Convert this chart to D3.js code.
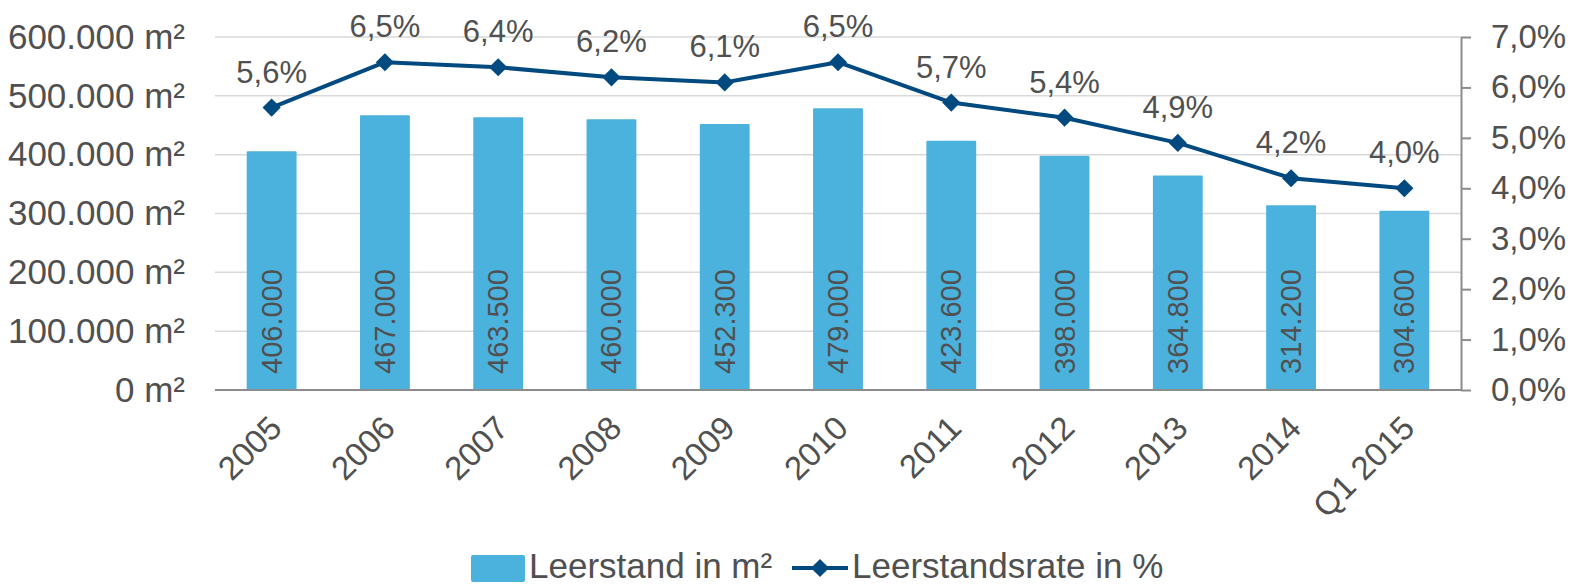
<!DOCTYPE html>
<html><head><meta charset="utf-8">
<script src="https://cdn.jsdelivr.net/npm/d3@7"></script>
<style>
body{margin:0;background:#fff;}
text{font-family:"Liberation Sans",Arial,sans-serif;fill:#505050;}
</style></head>
<body><svg id="c" width="1574" height="585"></svg>
<script>
const categories = ["2005","2006","2007","2008","2009","2010","2011","2012","2013","2014","Q1 2015"];
const leerstand = [406000,467000,463500,460000,452300,479000,423600,398000,364800,314200,304600];
const rate = [5.6,6.5,6.4,6.2,6.1,6.5,5.7,5.4,4.9,4.2,4.0];
const leftTicks = [0,100000,200000,300000,400000,500000,600000];
const rightTicks = [0,1,2,3,4,5,6,7];

const svg = d3.select("#c");
const L = 215, R = 1461, T = 37, B = 390;
const x = d3.scaleBand().domain(categories).range([L,R]).paddingInner(0.56).paddingOuter(0.28);
const yL = d3.scaleLinear().domain([0,600000]).range([B,T]);
const yR = d3.scaleLinear().domain([0,7]).range([B,T]);
const fmtInt = d3.formatLocale({decimal:",",thousands:".",grouping:[3],currency:["",""]}).format(",.0f");
const fmtPct = v => d3.format(".1f")(v).replace(".",",") + "%";

// gridlines
svg.append("g").selectAll("line").data(leftTicks.slice(1)).join("line")
  .attr("x1",L).attr("x2",R).attr("y1",d=>yL(d)).attr("y2",d=>yL(d))
  .attr("stroke","#d9d9d9").attr("stroke-width",1.5);

// left axis labels
const gl = svg.append("g").attr("transform",`translate(${L},0)`)
  .call(d3.axisLeft(yL).tickValues(leftTicks).tickSize(0).tickPadding(30).tickFormat(d=>fmtInt(d)+" m²"));
gl.select(".domain").remove();
gl.selectAll("text").style("font-size","35px").attr("fill","#505050");

// bars
svg.append("g").selectAll("rect").data(leerstand).join("rect")
  .attr("x",(d,i)=>x(categories[i])).attr("width",x.bandwidth())
  .attr("y",d=>yL(d)).attr("height",d=>B-yL(d)).attr("fill","#4bb1dd").attr("rx",1);

// bar labels
svg.append("g").selectAll("text").data(leerstand).join("text")
  .attr("transform",(d,i)=>`translate(${x(categories[i])+x.bandwidth()/2+10},${B-16}) rotate(-90)`)
  .attr("text-anchor","start").style("font-size","29px").text(d=>fmtInt(d));

// baseline
svg.append("line").attr("x1",L).attr("x2",R).attr("y1",B).attr("y2",B)
  .attr("stroke","#8c8c8c").attr("stroke-width",2);

// right axis
const gr = svg.append("g").attr("transform",`translate(${R},0)`)
  .call(d3.axisRight(yR).tickValues(rightTicks).tickSizeInner(10).tickSizeOuter(0).tickPadding(20).tickFormat(fmtPct));
gr.select(".domain").attr("stroke","#8c8c8c").attr("stroke-width",2);
gr.selectAll(".tick line").attr("stroke","#8c8c8c").attr("stroke-width",2);
gr.selectAll("text").style("font-size","33px").attr("fill","#505050");

// x labels
svg.append("g").selectAll("text").data(categories).join("text")
  .attr("transform",d=>`translate(${x(d)+x.bandwidth()/2+12},${B+40}) rotate(-45)`)
  .attr("text-anchor","end").style("font-size","33px").text(d=>d);

// line
const cx = i => x(categories[i]) + x.bandwidth()/2;
const line = d3.line().x((d,i)=>cx(i)).y(d=>yR(d));
svg.append("path").datum(rate).attr("d",line).attr("fill","none")
  .attr("stroke","#004a80").attr("stroke-width",4).attr("stroke-linejoin","round");
const sym = d3.symbol().type(d3.symbolDiamond2).size(210);
svg.append("g").selectAll("path").data(rate).join("path")
  .attr("d",sym).attr("transform",(d,i)=>`translate(${cx(i)},${yR(d)})`).attr("fill","#004a80");
svg.append("g").selectAll("text").data(rate).join("text")
  .attr("x",(d,i)=>cx(i)).attr("y",d=>yR(d)-25).attr("text-anchor","middle")
  .style("font-size","31px").text(d=>fmtPct(d));

// legend
const lg = svg.append("g");
lg.append("rect").attr("x",471).attr("y",555).attr("width",54).attr("height",27).attr("rx",2).attr("fill","#4bb1dd");
lg.append("text").attr("x",529).attr("y",578).style("font-size","35px").text("Leerstand in m²");
lg.append("line").attr("x1",792).attr("x2",848).attr("y1",568).attr("y2",568).attr("stroke","#004a80").attr("stroke-width",4);
lg.append("path").attr("d",sym).attr("transform","translate(820,568)").attr("fill","#004a80");
lg.append("text").attr("x",852).attr("y",578).style("font-size","35px").text("Leerstandsrate in %");
</script></body></html>
